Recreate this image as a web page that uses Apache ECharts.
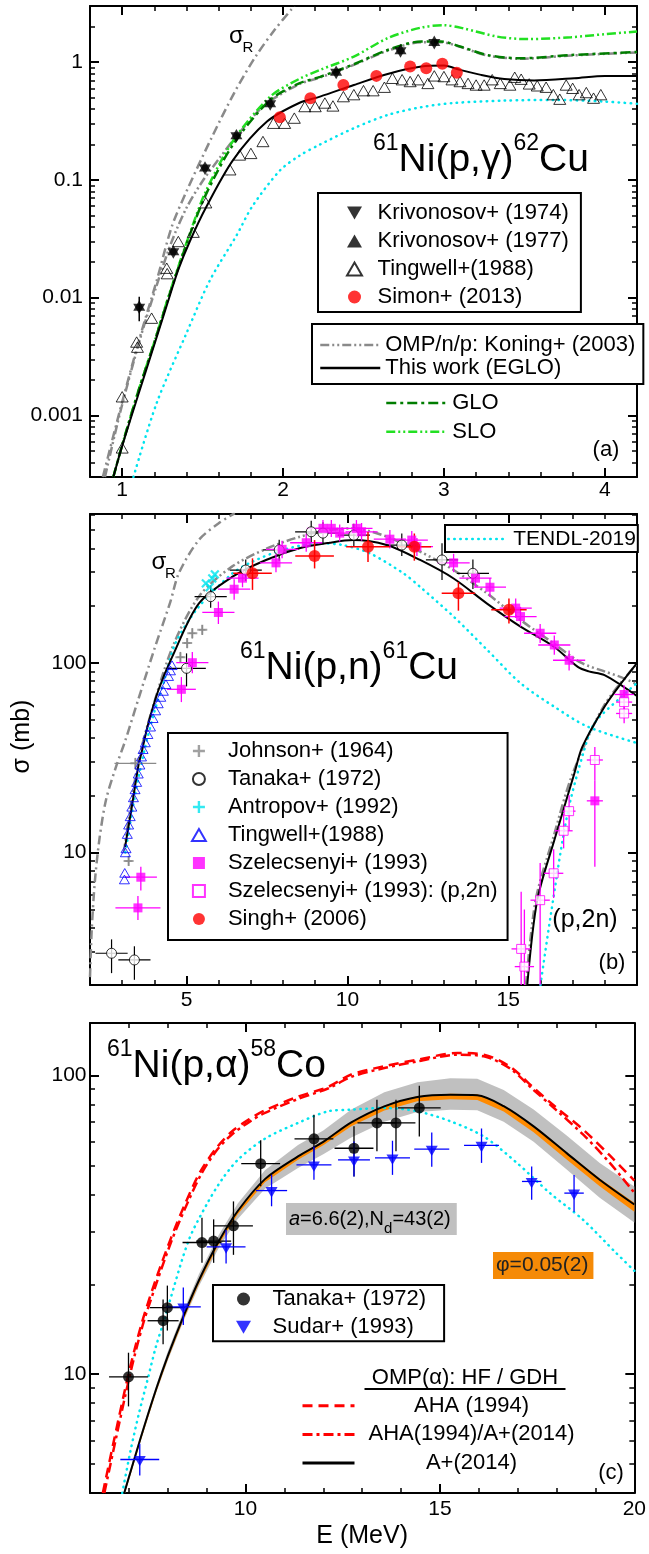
<!DOCTYPE html>
<html><head><meta charset="utf-8">
<script src="https://cdn.jsdelivr.net/npm/echarts@6/dist/echarts.min.js"></script>
<style>html,body{margin:0;padding:0;background:#fff}#c{width:649px;height:1554px}</style>
</head><body><div id="c"></div>
<script>
// ---------------- Panel (a): 61Ni(p,gamma)62Cu ----------------
const sigR_a   = [[0.88,0.0003],[0.986,0.0011],[1.11,0.0046],[1.215,0.014],[1.308,0.04],[1.4,0.08],[1.55,0.22],[1.7,0.56],[1.83,1.12],[1.95,1.9],[2.07,3.0]];
const koning_a = [[0.893,0.0003],[0.986,0.00104],[1.11,0.0044],[1.215,0.0128],[1.308,0.03],[1.4,0.058],[1.5,0.098],[1.6,0.15],[1.71,0.235],[1.85,0.39],[1.92,0.47],[2.1,0.65],[2.23,0.74],[2.44,0.95],[2.65,1.25],[2.86,1.48],[2.98,1.48],[3.1,1.35],[3.27,1.14],[3.48,1.07],[3.79,1.14],[4.2,1.21]];
const glo_a    = [[0.945,0.0003],[1.0,0.00056],[1.1,0.0016],[1.2,0.0042],[1.3,0.0113],[1.42,0.034],[1.52,0.075],[1.69,0.2],[1.92,0.478],[2.1,0.66],[2.23,0.75],[2.44,0.96],[2.65,1.27],[2.86,1.5],[2.98,1.5],[3.1,1.36],[3.27,1.15],[3.48,1.08],[3.79,1.15],[4.2,1.22]];
const slo_a    = [[0.945,0.0003],[1.0,0.00056],[1.1,0.0016],[1.2,0.0042],[1.3,0.0115],[1.42,0.035],[1.52,0.08],[1.69,0.215],[1.92,0.51],[2.1,0.72],[2.23,0.86],[2.44,1.116],[2.65,1.6],[2.86,1.97],[3.0,2.06],[3.12,1.94],[3.33,1.65],[3.52,1.57],[3.79,1.63],[4.0,1.73],[4.2,1.82]];
const eglo_a   = [[0.945,0.0003],[1.0,0.00055],[1.1,0.0015],[1.2,0.004],[1.3,0.0108],[1.35,0.0175],[1.42,0.03],[1.52,0.058],[1.69,0.148],[1.9,0.313],[2.1,0.45],[2.23,0.51],[2.44,0.64],[2.65,0.795],[2.86,0.918],[3.0,0.935],[3.1,0.86],[3.23,0.78],[3.375,0.72],[3.56,0.70],[3.81,0.73],[4.0,0.765],[4.2,0.765]];
const tendl_a  = [[1.07,0.0003],[1.214,0.00127],[1.4,0.005],[1.546,0.0141],[1.712,0.034],[1.81,0.06],[1.98,0.12],[2.1,0.16],[2.23,0.2],[2.44,0.275],[2.65,0.356],[2.86,0.415],[3.06,0.45],[3.375,0.472],[3.69,0.478],[4.0,0.463],[4.2,0.443]];
const kriv74_a = [[1.106,0.0083,0,0.0063,0.0102],[1.318,0.0245,0,0.0245,0.0245],[1.515,0.126,0,0.126,0.126],[1.71,0.237,0,0.237,0.237],[1.92,0.443,0,0.443,0.443],[2.33,0.82,0,0.82,0.82],[2.73,1.25,0,1.25,1.25],[2.94,1.47,0,1.47,1.47]];
const kriv77_a = [[1.106,0.0083],[1.318,0.0245],[1.515,0.126],[1.71,0.237],[1.92,0.443],[2.33,0.82],[2.73,1.25],[2.94,1.47]];
const simon_a  = [[1.98,0.341],[2.17,0.494],[2.375,0.64],[2.58,0.765],[2.79,0.92],[2.89,0.89],[2.99,0.97],[3.08,0.815]];
const tingwell_a = [[1.0,0.00144],[1.0,0.00053],[1.09,0.0042],[1.095,0.0038],[1.183,0.0067],[1.277,0.0178],[1.28,0.016],[1.349,0.030],[1.442,0.036],[1.52,0.064],[1.67,0.122],[1.73,0.163],[1.80,0.168],[1.875,0.212],[1.94,0.303],[2.01,0.303],[2.07,0.335],[2.135,0.42],[2.2,0.42],[2.26,0.45],[2.31,0.425],[2.375,0.51],[2.44,0.53],[2.5,0.573],[2.56,0.573],[2.63,0.613],[2.68,0.73],[2.74,0.71],[2.79,0.685],[2.84,0.71],[2.9,0.66],[2.94,0.765],[3.0,0.755],[3.05,0.71],[3.1,0.685],[3.15,0.66],[3.2,0.64],[3.25,0.64],[3.3,0.71],[3.35,0.66],[3.41,0.64],[3.44,0.745],[3.48,0.717],[3.53,0.654],[3.58,0.63],[3.635,0.613],[3.68,0.53],[3.72,0.485],[3.76,0.64],[3.80,0.60],[3.84,0.53],[3.885,0.552],[3.93,0.495],[3.975,0.53]];
const xTicksA_major = [1,2,3,4];
const xTicksA_minor = [1,1.2,1.4,1.6,1.8,2,2.2,2.4,2.6,2.8,3,3.2,3.4,3.6,3.8,4];
const yTicksA_major = [0.001,0.01,0.1,1];
const yTicksA_minor = [0.0004,0.0005,0.0006,0.0007,0.0008,0.0009,0.002,0.003,0.004,0.005,0.006,0.007,0.008,0.009,0.02,0.03,0.04,0.05,0.06,0.07,0.08,0.09,0.2,0.3,0.4,0.5,0.6,0.7,0.8,0.9,2];

// ---------------- Panel (b): 61Ni(p,n)61Cu ----------------
const sigR_b   = [[2.0,2.2],[2.05,3.8],[2.15,7],[2.3,12],[2.5,19],[2.8,28],[3.1,39],[3.5,64],[4.0,118],[4.5,210],[4.76,296],[5.38,443],[6.0,543],[6.5,615]];
const koning_b = [[3.05,10],[3.5,30],[4.0,62],[4.6,125],[5.4,225],[6.4,320],[7.5,400],[8.5,460],[9.45,501],[10.18,511],[11.22,462],[12.26,385],[13.3,308],[14.34,232],[15.38,168],[16.42,126],[17.26,100],[17.99,90],[18.5,84],[19.0,77]];
const eglo_b   = [[3.09,10.7],[3.3,17.4],[3.51,29],[3.61,34],[3.8,47],[4.13,72],[4.55,107],[5.38,205],[6.43,284],[7.47,348],[8.51,401],[9.45,429],[10.18,443],[11.22,417],[12.26,348],[13.3,278],[14.34,205],[15.38,155],[16.43,121],[17.16,95],[17.5,90],[17.99,86],[19.03,66.2]];
const tendl_b  = [[3.1,10],[3.4,20],[3.7,35],[4.0,55],[4.3,80],[4.66,127],[5.38,197],[6.43,296],[7.05,341],[7.99,393],[9.13,426],[9.86,417],[10.7,377],[11.74,296],[12.26,251],[13.3,175],[14.34,117],[15.38,78],[16.43,58.6],[17.47,46],[19.03,37.6]];
const eglo2n_b   = [[15.59,2.0],[15.9,5.6],[16.43,11.6],[17.05,26],[17.3,36],[17.99,58.6],[18.51,78],[19.03,101]];
const koning2n_b = [[15.55,2.0],[15.85,5.6],[16.4,12],[17.0,26],[17.99,60],[19.03,100]];
const tendl2n_b  = [[16.0,2.0],[16.33,4.8],[16.84,16],[17.36,34.7],[17.68,48],[18.51,66],[19.03,79]];
const johnson_b  = [[3.2,9.0,0.1,8.5,9.6],[3.41,29.5,0.65,27.5,31.5],[4.81,107,0.1,100,114],[5.02,127,0.1,119,135],[5.18,143,0.1,134,152],[5.49,149,0.1,140,158]];
const tanaka_b   = [[2.67,2.94,0.5,2.31,3.48],[3.38,2.71,0.5,2.13,3.2],[5.0,93.4,0.6,75,112],[5.75,223,0.5,195,255],[6.84,308,0.5,270,350],[7.88,393,0.5,345,445],[8.875,490,0.5,430,560],[9.24,482,0.5,420,550],[10.2,470,0.5,410,540],[11.69,417,0.5,365,480],[12.94,348,0.5,273,426],[13.9,296,0.5,245,350]];
const antropov_b = [[5.6,262],[5.72,250],[5.8,278],[5.88,292]];
const tingwell_b = [[3.07,7.2],[3.08,7.8],[3.1,10],[3.12,10.5],[3.16,12.5],[3.2,14],[3.25,15.5],[3.3,17.4],[3.35,19.5],[3.4,21.5],[3.45,23.5],[3.5,26],[3.55,29],[3.6,32],[3.65,35],[3.72,38],[3.8,42],[3.88,46],[3.96,51],[4.04,56],[4.12,61],[4.2,66],[4.28,71],[4.36,77],[4.44,85],[4.5,91],[4.55,97]];
const szel_b     = [[3.49,5.1,0.7,4.4,5.9],[3.58,7.4,0.5,6.3,8.4],[4.84,72.4,0.45,62,84],[5.18,100,0.5,88,114],[5.99,184,0.5,160,210],[6.48,244,0.5,215,275],[6.74,279,0.5,250,310],[7.78,336,0.5,300,375],[7.97,396,0.5,355,440],[8.72,429,0.5,385,480],[9.24,511,0.5,460,565],[9.5,511,0.5,460,565],[9.76,482,0.5,435,535],[10.28,511,0.5,460,565],[10.44,490,0.5,440,545],[11.32,448,0.5,400,500],[12.0,443,0.5,395,495],[12.16,409,0.5,365,455],[13.3,336,0.5,300,375],[13.98,279,0.5,250,312],[14.43,250,0.5,222,280],[15.23,194,0.5,172,218],[15.38,175,0.5,155,197],[15.99,143,0.5,127,160],[16.43,124,0.5,110,139],[16.89,103,0.5,91,116],[17.69,18.7,0.25,8.4,24],[18.6,68,0.3,61,76]];
const szel2n_b   = [[15.4,3.1,0.3,2.0,6.2],[15.5,2.5,0.3,2.0,5.0],[15.99,5.6,0.3,2.0,8.8],[16.41,7.76,0.3,5.75,10.4],[16.72,13,0.28,10.5,16],[16.89,16.5,0.2,13,20],[17.69,30.7,0.25,24,36],[18.6,62,0.25,56,70],[18.6,54,0.25,48,60]];
const singh_b    = [[7.05,296,0.6,242,355],[8.98,365,0.6,314,443],[10.64,408,0.68,340,489],[12.08,408,0.52,345,480],[13.45,232,0.52,188,266],[15.02,190,0.55,161,218]];
const xTicksB_major = [5,10,15];
const xTicksB_minor = [3,4,5,6,7,8,9,10,11,12,13,14,15,16,17,18];
const yTicksB_major = [10,100];
const yTicksB_minor = [3,4,5,6,7,8,9,20,30,40,50,60,70,80,90,200,300,400,500,600];

// ---------------- Panel (c): 61Ni(p,alpha)58Co ----------------
const aha_c     = [[6.33,4.0],[6.97,9.75],[7.33,14.8],[7.68,20.5],[8.08,28.5],[8.43,36.8],[8.83,47.5],[9.25,57.2],[9.65,65],[10.1,71.5],[10.5,76.5],[11.35,85],[12.12,91.6],[12.72,100.8],[13.57,107.5],[14.42,113],[15.45,119],[16.13,117.5],[16.81,107],[17.41,91],[18.0,78],[18.68,66],[19.37,54],[20,44.5]];
const ahaAp_c   = [[6.37,4.0],[7.0,9.6],[7.35,14.5],[7.7,20],[8.1,28],[8.45,36],[8.85,46.5],[9.25,56],[9.65,63.5],[10.1,70],[10.5,75],[11.35,83.5],[12.12,90.5],[12.72,99],[13.57,106],[14.42,111.5],[15.45,117.5],[16.13,116],[16.81,105.5],[17.41,89.5],[18.0,76.5],[18.68,63.5],[19.37,51],[20,40.5]];
const aplus_c   = [[6.88,4.0],[7.3,6.1],[7.7,8.9],[8.0,11.5],[8.4,15.6],[8.8,20.6],[9.3,27.7],[9.8,35.2],[10.5,45],[11.35,53.6],[12.0,60],[12.72,69.7],[13.57,78.9],[14.42,84.8],[15.27,86.3],[15.96,86],[16.64,79],[17.41,67.6],[18.26,55],[19.11,44.8],[20,37]];
const bandE_c   = [6.88,7.3,7.7,8.0,8.4,8.8,9.3,9.8,10.5,11.35,12.0,12.72,13.57,14.42,15.27,15.96,16.64,17.41,18.26,19.11,20];
const bandLo_c  = [3.9,5.95,8.65,11.1,15.0,19.7,26.3,33.1,41.8,49,54.5,62,70,75.5,76.8,76.5,70,60,48.5,39,32.2];
const bandHi_c  = [4.1,6.25,9.15,11.9,16.2,21.6,29.1,37.3,48.2,58.5,65.5,77,88,95,98,97.5,89.5,77,63,51,42.5];
const phiLo_c   = [3.92,5.96,8.7,11.22,15.2,20.1,27.0,34.3,43.9,52.3,58.4,67.6,76.4,82.0,83.3,82.8,75.8,64.6,52.4,42.6,35.0];
const phiHi_c   = [4.02,6.13,8.96,11.58,15.7,20.75,27.9,35.45,45.3,54.0,60.4,70.1,79.4,85.4,86.9,86.6,79.6,68.1,55.4,45.2,37.5];
const tendl_c   = [[6.83,4.0],[7.05,5.6],[7.26,7.4],[7.5,9.8],[7.69,12.3],[7.91,15.2],[8.03,17.2],[8.54,28.1],[9.0,37],[9.39,44.8],[9.82,52.5],[10.5,61.5],[11.35,69.4],[12.12,75.9],[12.72,76.9],[13.57,77.9],[14.42,75.9],[15.27,70.3],[16.13,62.5],[16.98,51],[17.83,40.4],[18.68,32.9],[19.54,25.4],[20,22.2]];
const tanaka_c  = [[6.99,9.8,0.5,7.8,11.8],[7.88,15.1,0.4,12.6,17.8],[7.99,16.7,0.45,14.0,19.8],[8.88,27.6,0.5,23.6,33.4],[9.18,27.9,0.45,23.6,33],[9.69,31.4,0.5,25.1,37.9],[10.39,50.7,0.5,42.6,60.7],[11.76,61.4,0.5,50.9,74],[12.79,57.1,0.5,45.9,67.6],[13.38,69.4,0.5,55.8,83],[13.87,69.4,0.5,55.8,83],[14.47,77.9,0.55,62.5,92.5]];
const sudar_c   = [[7.28,5.18,0.5,4.58,5.85],[8.4,16.8,0.45,14.6,19.5],[9.5,26.7,0.5,23.5,30.4],[10.67,41.2,0.4,36.5,46.5],[11.76,50.2,0.45,44.8,57.9],[12.79,52.2,0.41,45.9,60.2],[13.78,53.0,0.45,46.5,60.5],[14.79,56.7,0.45,49.5,64.5],[16.07,58.4,0.45,51,66.5],[17.36,44.2,0.25,38.4,49.6],[18.45,40.4,0.25,35,46.5]];
const xTicksC_major = [10,15,20];
const xTicksC_minor = [7,8,9,10,11,12,13,14,15,16,17,18,19];
const yTicksC_major = [10,100];
const yTicksC_minor = [5,6,7,8,9,20,30,40,50,60,70,80,90];

// ---------------- build ----------------
const FONT = '"Liberation Sans", Arial, Helvetica, sans-serif';
const fmt = v => String(+(+v).toPrecision(6));
function axes(dim, g, type, min, max, minor, major, labels, margin, extra) {
  const out = [];
  (dim === 'x' ? ['bottom','top'] : ['left','right']).forEach((pos, k) => {
    out.push(Object.assign({
      gridIndex:g, type, min, max, position:pos, splitLine:{show:false},
      axisLine:{show:true, onZero:false, lineStyle:{color:'#000', width:2}},
      axisTick:{show:true, inside:true, length:5, customValues:minor, lineStyle:{color:'#000', width:1.5}},
      axisLabel:{show:k===0, customValues:labels, margin, fontSize:21, color:'#000', fontFamily:FONT, formatter:fmt}
    }, k===0 ? (extra||{}) : {}));
    out.push({
      gridIndex:g, type, min, max, position:pos, splitLine:{show:false},
      axisLine:{show:false, onZero:false},
      axisTick:{show:true, inside:true, length:9, customValues:major, lineStyle:{color:'#000', width:2}},
      axisLabel:{show:false}
    });
  });
  return out;
}
const xAxis = [].concat(
  axes('x',0,'value',0.8,4.2,xTicksA_minor,xTicksA_major,xTicksA_major,2.5),
  axes('x',1,'value',2,19,xTicksB_minor,xTicksB_major,xTicksB_major,4.5),
  axes('x',2,'value',6,20,xTicksC_minor,xTicksC_major,xTicksC_major,5.5,
    {name:'E (MeV)', nameLocation:'middle', nameGap:31, nameTextStyle:{fontSize:25, color:'#000', fontFamily:FONT}})
);
const yAxis = [].concat(
  axes('y',0,'log',0.0003,3,yTicksA_minor,yTicksA_major,yTicksA_major,7),
  axes('y',1,'log',2,608,yTicksB_minor,yTicksB_major,yTicksB_major,3.5),
  axes('y',2,'log',4,150,yTicksC_minor,yTicksC_major,yTicksC_major,3.5)
);

const GRAY='#8a8a8a', DKGREEN='#007d00', LIME='#22e022', CYAN='#00e4ee', RED='#ff0000', MAG='#ff00ff', BLUE='#0000ff';
const TRI  = 'path://M5,0 L10,8.66 L0,8.66 Z';
const TRID = 'path://M0,0 L10,0 L5,8.66 Z';
const SQR  = 'path://M0,0 L10,0 L10,10 L0,10 Z';
const PLUS = 'path://M4,0 L6,0 L6,4 L10,4 L10,6 L6,6 L6,10 L4,10 L4,6 L0,6 L0,4 L4,4 Z';
const DASHDOT=[9,4,2,4], DASHDOTDOT=[9,3,2,3,2,3], DOT=[0.5,5.5];

function line(g, data, color, width, dash, name, z, cap) {
  const s = {type:'line', xAxisIndex:4*g, yAxisIndex:4*g, data, symbol:'none', showSymbol:false,
    smooth:0.3, silent:true, z:z||2,
    lineStyle:{color, width, type:dash, cap:cap||'butt'}, itemStyle:{color}};
  if (name) s.name = name;
  return s;
}
function scat(g, data, symbol, size, itemStyle, name, rot, off) {
  const s = {type:'scatter', xAxisIndex:4*g, yAxisIndex:4*g, data, symbol, symbolSize:size, symbolRotate:rot||0,
    symbolKeepAspect:true, symbolOffset:off||[0,0], itemStyle, silent:true, z:6};
  if (name) s.name = name;
  return s;
}
function err(g, data, color, w) {
  return {type:'custom', xAxisIndex:4*g, yAxisIndex:4*g, data, encode:{x:0, y:1}, clip:true, silent:true, z:5,
    renderItem:(p, api) => {
      const x=api.value(0), y=api.value(1), dx=api.value(2), lo=api.value(3), hi=api.value(4);
      const a=api.coord([x-dx,y]), b=api.coord([x+dx,y]), c=api.coord([x,lo]), d=api.coord([x,hi]);
      return {type:'group', children:[
        {type:'line', shape:{x1:a[0],y1:a[1],x2:b[0],y2:b[1]}, style:{stroke:color, lineWidth:w}},
        {type:'line', shape:{x1:c[0],y1:c[1],x2:d[0],y2:d[1]}, style:{stroke:color, lineWidth:w}}]};
    }};
}
function band(g, xs, lo, hi, color, z) {
  return {type:'custom', xAxisIndex:4*g, yAxisIndex:4*g, data:[[xs[0], lo[0]]], encode:{x:0, y:1}, clip:true, silent:true, z:z,
    renderItem:(p, api) => {
      const pts = [];
      for (let i=0;i<xs.length;i++) pts.push(api.coord([xs[i], hi[i]]));
      for (let i=xs.length-1;i>=0;i--) pts.push(api.coord([xs[i], lo[i]]));
      return {type:'polygon', shape:{points:pts}, style:{fill:color}};
    }};
}

const series = [
  // (a)
  line(0, sigR_a, GRAY, 2.5, DASHDOT),
  line(0, koning_a, GRAY, 2.5, DASHDOTDOT, 'OMP/n/p: Koning+ (2003)'),
  line(0, slo_a, LIME, 2.5, DASHDOTDOT, 'SLO'),
  line(0, glo_a, DKGREEN, 2.5, [10,4,3,4], 'GLO'),
  line(0, tendl_a, CYAN, 2.5, DOT, null, 2, 'round'),
  line(0, eglo_a, '#000', 2, 'solid', 'This work (EGLO)', 3),
  scat(0, tingwell_a, TRI, 12, {color:'rgba(255,255,255,0)', borderColor:'#000', borderWidth:1}, 'Tingwell+(1988)'),
  err(0, kriv74_a, '#000', 1.5),
  scat(0, kriv74_a, TRID, 12, {color:'#000'}, 'Krivonosov+ (1974)', 0, [0,1.7]),
  scat(0, kriv77_a, TRI, 12, {color:'#000'}, 'Krivonosov+ (1977)', 0, [0,-1.7]),
  scat(0, simon_a, 'circle', 12, {color:RED}, 'Simon+ (2013)'),
  // (b)
  line(1, sigR_b, GRAY, 2.5, DASHDOT),
  line(1, koning_b, GRAY, 2.5, DASHDOTDOT),
  line(1, koning2n_b, GRAY, 2.5, DASHDOTDOT),
  line(1, tendl_b, CYAN, 2.5, DOT, 'TENDL-2019', 2, 'round'),
  line(1, tendl2n_b, CYAN, 2.5, DOT, null, 2, 'round'),
  line(1, eglo_b, '#000', 2, 'solid', null, 3),
  line(1, eglo2n_b, '#000', 2, 'solid', null, 3),
  err(1, johnson_b, GRAY, 1.3),
  scat(1, johnson_b, PLUS, 10, {color:GRAY}, 'Johnson+ (1964)'),
  err(1, tanaka_b, '#000', 1.2),
  scat(1, tanaka_b, 'circle', 10, {color:'#fff', borderColor:'#000', borderWidth:1}, 'Tanaka+ (1972)'),
  scat(1, antropov_b, PLUS, 11, {color:CYAN}, 'Antropov+ (1992)', 45),
  scat(1, tingwell_b, TRI, 10, {color:'rgba(255,255,255,0)', borderColor:BLUE, borderWidth:1}, 'Tingwell+(1988) '),
  err(1, szel_b, MAG, 1.3),
  scat(1, szel_b, SQR, 9, {color:MAG}, 'Szelecsenyi+ (1993)'),
  err(1, szel2n_b, MAG, 1.3),
  scat(1, szel2n_b, SQR, 9, {color:'#fff', borderColor:MAG, borderWidth:1}, 'Szelecsenyi+ (1993): (p,2n)'),
  err(1, singh_b, RED, 1.5),
  scat(1, singh_b, 'circle', 12, {color:RED}, 'Singh+ (2006)'),
  // (c)
  band(2, bandE_c, bandLo_c, bandHi_c, '#c0c0c0', 1),
  band(2, bandE_c, phiLo_c, phiHi_c, '#ff8a00', 1.5),
  line(2, tendl_c, CYAN, 2.5, DOT, null, 2, 'round'),
  line(2, aha_c, RED, 2.5, [10,6], 'AHA (1994)'),
  line(2, ahaAp_c, RED, 2.5, [10,4,3,4], 'AHA(1994)/A+(2014)'),
  line(2, aplus_c, '#000', 2, 'solid', 'A+(2014)', 3),
  err(2, tanaka_c, '#000', 1.3),
  scat(2, tanaka_c, 'circle', 11, {color:'#000'}, 'Tanaka+ (1972) '),
  err(2, sudar_c, BLUE, 1.3),
  scat(2, sudar_c, TRID, 12, {color:BLUE}, 'Sudar+ (1993)', 0, [0,1.7])
];

const LT = (fs) => ({fontSize:fs||22, lineHeight:22, color:'#000', fontFamily:FONT});
const HIDE_SYM = {opacity:0};
const legend = [
  {data:['Krivonosov+ (1974)','Krivonosov+ (1977)','Tingwell+(1988)','Simon+ (2013)'], orient:'vertical', left:318, top:193,
   padding:[9,12,4,28], itemWidth:36, itemHeight:13, itemGap:6, symbolKeepAspect:true, textStyle:LT(), borderColor:'#000', borderWidth:2, backgroundColor:'#fff', selectedMode:false},
  {data:['OMP/n/p: Koning+ (2003)','This work (EGLO)'], orient:'vertical', left:312, top:324,
   padding:[10,8,5,7], itemWidth:60, itemHeight:12, itemGap:1, textStyle:LT(), itemStyle:HIDE_SYM, lineStyle:{width:2.5},
   borderColor:'#000', borderWidth:2, backgroundColor:'#fff', selectedMode:false},
  {data:['GLO','SLO'], orient:'vertical', left:385, top:392, padding:0, itemWidth:61, itemHeight:12, itemGap:6.7, textStyle:LT(),
   itemStyle:HIDE_SYM, lineStyle:{width:2.5}, selectedMode:false},
  {data:['TENDL-2019'], orient:'vertical', left:445, top:525, padding:[3,2,2,2], itemWidth:60, itemHeight:12, textStyle:LT(21),
   itemStyle:HIDE_SYM, lineStyle:{width:2.5}, borderColor:'#000', borderWidth:2, backgroundColor:'#fff', selectedMode:false},
  {data:['Johnson+ (1964)','Tanaka+ (1972)','Antropov+ (1992)','Tingwell+(1988) ','Szelecsenyi+ (1993)','Szelecsenyi+ (1993): (p,2n)','Singh+ (2006)'],
   orient:'vertical', left:168, top:733, padding:[7,10,10,23], itemWidth:48, itemHeight:12, itemGap:6, symbolKeepAspect:true, textStyle:LT(),
   borderColor:'#000', borderWidth:2, backgroundColor:'#fff', selectedMode:false},
  {data:['Tanaka+ (1972) ','Sudar+ (1993)'], orient:'vertical', left:213, top:1285, padding:[3,12,3,23], itemWidth:48, itemHeight:13, itemGap:6.3,
   symbolKeepAspect:true, textStyle:LT(), borderColor:'#000', borderWidth:2, backgroundColor:'#fff', selectedMode:false},
  {data:['AHA (1994)','AHA(1994)/A+(2014)','A+(2014)'], orient:'vertical', left:301, top:1394.7, padding:0, itemWidth:52, itemHeight:12, itemGap:6.7,
   formatter: n => '{c|' + n + '}',
   textStyle:{fontSize:22, lineHeight:22, color:'#000', fontFamily:FONT, rich:{c:{width:224, align:'center', fontSize:22, lineHeight:22, color:'#000', fontFamily:FONT}}},
   itemStyle:HIDE_SYM, lineStyle:{width:3}, selectedMode:false}
];

const big = {fontSize:39, lineHeight:56, fontFamily:FONT, fill:'#000'};
const sup = {fontSize:23, verticalAlign:'top', fontFamily:FONT, fill:'#000'};
function T(x, y, text, size, rot) {
  return {type:'text', x, y, rotation:rot||0, z:100,
    style:{text, fontSize:size, fontFamily:FONT, fill:'#000', align:'center', verticalAlign:'middle'}};
}
const graphic = [
  {type:'text', x:373, y:160, z:100, style:{text:'{s|61}{b|Ni(p,γ)}{s|62}{b|Cu}', rich:{b:big, s:sup}, align:'left', verticalAlign:'middle'}},
  {type:'text', x:240, y:668, z:100, style:{text:'{s|61}{b|Ni(p,n)}{s|61}{b|Cu}', rich:{b:big, s:sup}, align:'left', verticalAlign:'middle'}},
  {type:'text', x:107, y:1066, z:100, style:{text:'{s|61}{b|Ni(p,α)}{s|58}{b|Co}', rich:{b:big, s:sup}, align:'left', verticalAlign:'middle'}},
  T(236.5, 36, 'σ', 24), T(248, 47.5, 'R', 15),
  T(159, 562, 'σ', 24), T(170.5, 574, 'R', 15),
  T(606, 450, '(a)', 22), T(612, 963, '(b)', 22), T(611, 1473, '(c)', 22),
  T(585, 920, '(p,2n)', 25),
  T(22.5, 736.5, 'σ (mb)', 25, Math.PI/2),
  T(465, 1378, 'OMP(α): HF / GDH', 22),
  {type:'line', z:100, shape:{x1:364.5, y1:1389, x2:565.5, y2:1389}, style:{stroke:'#000', lineWidth:2}},
  {type:'text', x:286, y:1219, z:100, style:{text:'{i|a}{n|=6.6(2),N}{d|d}{n|=43(2)}', align:'left', verticalAlign:'middle',
     backgroundColor:'#c0c0c0', padding:[4,6,4,3],
     rich:{i:{fontSize:20, fontStyle:'italic', fontFamily:FONT, fill:'#000', lineHeight:24},
           n:{fontSize:20, fontFamily:FONT, fill:'#000', lineHeight:24},
           d:{fontSize:15, fontFamily:FONT, fill:'#000', height:4, verticalAlign:'bottom'}}}},
  {type:'text', x:493, y:1265.5, z:100, style:{text:'φ=0.05(2)', fontSize:21, fontFamily:FONT, fill:'#222', align:'left', verticalAlign:'middle',
     backgroundColor:'#f58a07', padding:[3,5,2,3], lineHeight:22}}
];

const option = {
  animation:false, backgroundColor:'#fff', textStyle:{fontFamily:FONT},
  grid:[{left:90, top:6, width:547, height:471}, {left:90, top:514, width:547, height:471}, {left:90, top:1023, width:547, height:470}],
  xAxis, yAxis, series, legend, graphic
};
const chart = echarts.init(document.getElementById('c'), null, {renderer:'canvas', width:649, height:1554});
chart.setOption(option);
</script></body></html>
